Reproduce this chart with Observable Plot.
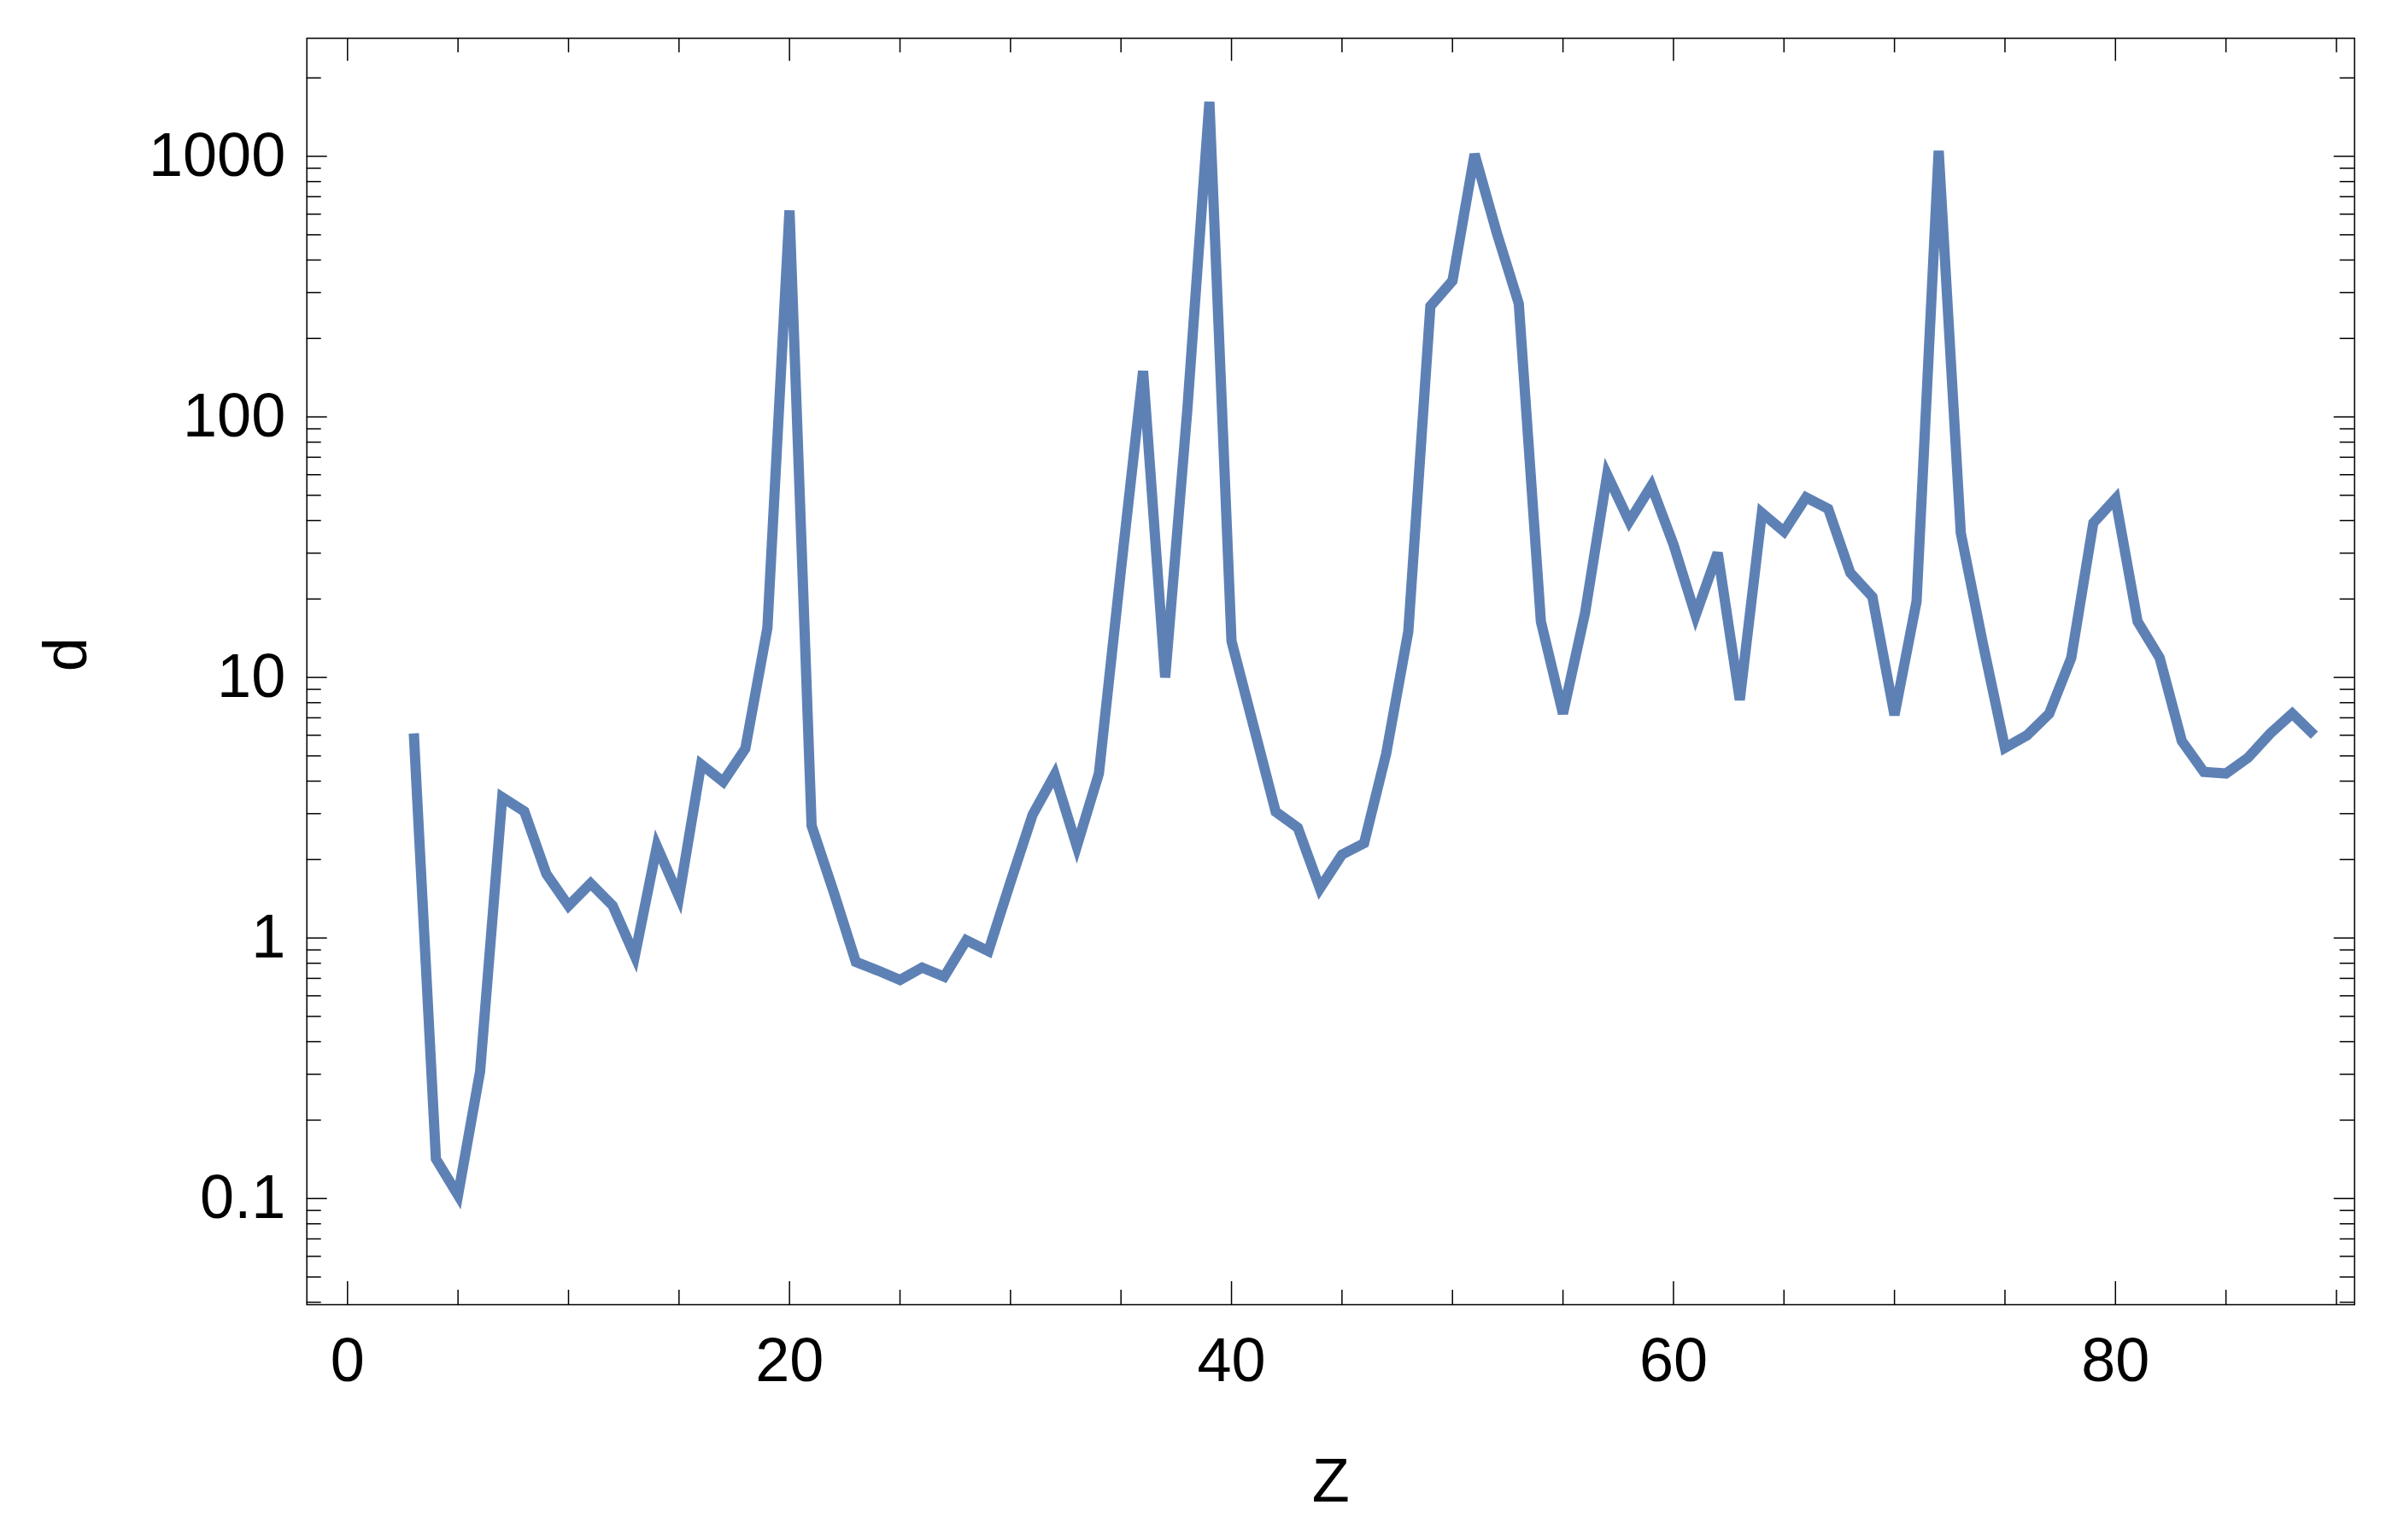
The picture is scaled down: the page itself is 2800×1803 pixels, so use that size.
<!DOCTYPE html>
<html>
<head>
<meta charset="utf-8">
<script src="https://cdn.jsdelivr.net/npm/d3@7"></script>
<script src="https://cdn.jsdelivr.net/npm/@observablehq/plot@0.6"></script>
<style>
  html, body { margin: 0; padding: 0; background: #ffffff; }
  #chart svg { display: block; }
</style>
</head>
<body>
<div id="chart"></div>
<script>
// ---- data ----
const zValues = [3,4,5,6,7,8,9,10,11,12,13,14,15,16,17,18,19,20,21,22,23,24,25,26,27,28,29,30,
  31,32,33,34,35,36,37,38,39,40,41,42,43,44,45,46,47,48,49,50,51,52,53,54,55,56,57,58,59,60,
  61,62,63,64,65,66,67,68,69,70,71,72,73,74,75,76,77,78,79,80,81,82,83,84,85,86,87,88,89];
const dValues = [6.1,0.142,0.103,0.308,3.47,3.06,1.76,1.33,1.62,1.33,0.853,2.25,1.44,4.64,3.98,5.33,15.5,620,
  2.7,1.5,0.81,0.75,0.69,0.77,0.71,0.98,0.89,1.64,2.97,4.23,2.25,4.28,26,150,10.0,106,1620,13.8,6.5,
  3.05,2.65,1.55,2.09,2.31,5.1,15.0,266,333,1020,510,272,16.4,7.26,17.7,60,39.7,54.4,32.4,17.3,30.1,
  8.2,42.8,36.3,49.1,44.4,25.2,20.4,7.17,19.6,1050,35.9,13.5,5.37,6.0,7.26,11.9,39.2,48.5,16.4,11.9,
  5.71,4.34,4.28,4.92,6.09,7.26,6.0];

const xMajorTicks = [0, 20, 40, 60, 80];
const xMinorTicks = [5, 10, 15, 25, 30, 35, 45, 50, 55, 65, 70, 75, 85, 90];
const yMajorTicks = [0.1, 1, 10, 100, 1000];
const yTickLabels = ["0.1", "1", "10", "100", "1000"];
const yMinorTicks = [0.04,0.05,0.06,0.07,0.08,0.09,
  0.2,0.3,0.4,0.5,0.6,0.7,0.8,0.9,
  2,3,4,5,6,7,8,9,
  20,30,40,50,60,70,80,90,
  200,300,400,500,600,700,800,900,
  2000];
const xLabel = "Z";
const yLabel = "d";

const points = zValues.map((z, i) => ({z, d: dValues[i]}));

// ---- layout ----
const W = 2800, H = 1803;
const mL = 358.7, mR = 44.3, mT = 44.3, mB = 276;
const innerW = W - mL - mR, innerH = H - mT - mB;
const majX = 27, minX = 17, majY = 24, minY = 17;
const ink = "#000000", tw = 1.5;

const chart = Plot.plot({
  width: W,
  height: H,
  marginLeft: mL, marginRight: mR, marginTop: mT, marginBottom: mB,
  style: {fontFamily: "'Liberation Sans', Arial, sans-serif", fontSize: "72px", background: "#ffffff", color: "#000"},
  x: {domain: [-1.84, 90.82]},
  y: {type: "log", domain: [0.03914, 2839]},
  marks: [
    Plot.line(points, {x: "z", y: "d", stroke: "#5E81B5", strokeWidth: 12,
      strokeLinejoin: "miter", strokeLinecap: "butt", strokeMiterlimit: 4}),
    Plot.frame({stroke: ink, strokeWidth: tw}),
    // bottom ticks
    Plot.tickX(xMajorTicks, {x: d => d, insetTop: innerH - majX, stroke: ink, strokeWidth: tw}),
    Plot.tickX(xMinorTicks, {x: d => d, insetTop: innerH - minX, stroke: ink, strokeWidth: tw}),
    // top ticks
    Plot.tickX(xMajorTicks, {x: d => d, insetBottom: innerH - majX, stroke: ink, strokeWidth: tw}),
    Plot.tickX(xMinorTicks, {x: d => d, insetBottom: innerH - minX, stroke: ink, strokeWidth: tw}),
    // left ticks
    Plot.tickY(yMajorTicks, {y: d => d, insetRight: innerW - majY, stroke: ink, strokeWidth: tw}),
    Plot.tickY(yMinorTicks, {y: d => d, insetRight: innerW - minY, stroke: ink, strokeWidth: tw}),
    // right ticks
    Plot.tickY(yMajorTicks, {y: d => d, insetLeft: innerW - majY, stroke: ink, strokeWidth: tw}),
    Plot.tickY(yMinorTicks, {y: d => d, insetLeft: innerW - minY, stroke: ink, strokeWidth: tw}),
    // tick labels
    Plot.axisX(xMajorTicks, {anchor: "bottom", tickSize: 0, tickPadding: 38.7, label: null, fontSize: 72}),
    Plot.axisY(yMajorTicks, {anchor: "left", tickSize: 0, tickPadding: 25, label: null, fontSize: 72,
      tickFormat: d => yTickLabels[yMajorTicks.indexOf(d)]}),
    // axis titles
    Plot.text([xLabel], {frameAnchor: "bottom", dy: 179.7, lineAnchor: "top", fontSize: 72, fill: ink}),
    Plot.text([yLabel], {frameAnchor: "left", dx: -258.7, rotate: -90, lineAnchor: "bottom", fontSize: 72, fill: ink})
  ]
});
document.getElementById("chart").append(chart);
</script>
</body>
</html>
